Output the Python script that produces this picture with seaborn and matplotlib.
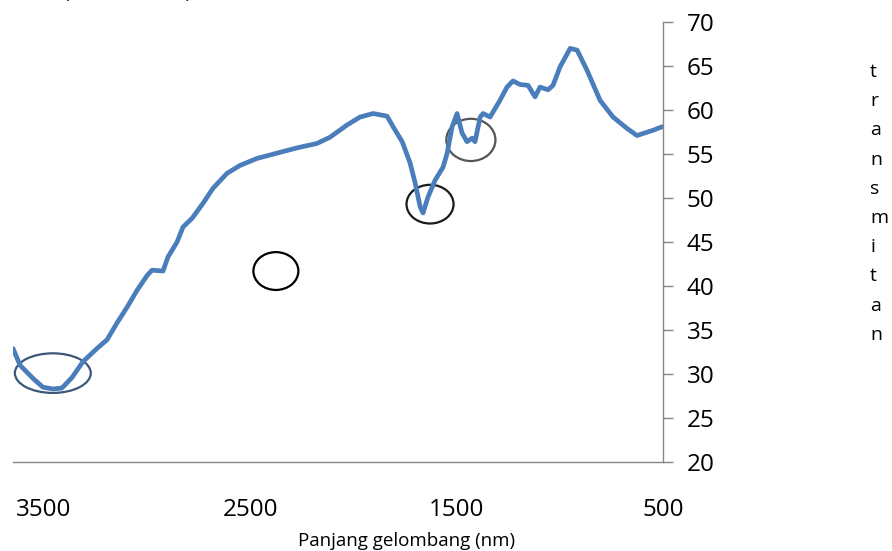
import matplotlib
matplotlib.use("Agg")
import matplotlib.pyplot as plt
from matplotlib.patches import Ellipse
import seaborn as sns
import pandas as pd

# Wavelength (x) and transmittance (y) values
wavelength = [3650, 3616, 3553, 3505, 3456, 3413, 3364, 3311, 3243, 3194,
              3146, 3097, 3049, 3000, 2976, 2923, 2899, 2855, 2826, 2782,
              2729, 2681, 2613, 2550, 2467, 2370, 2273, 2177, 2114, 2031,
              1968, 1905, 1837, 1808, 1764, 1726, 1701, 1677, 1663, 1639,
              1605, 1566, 1546, 1522, 1498, 1474, 1450, 1425, 1411, 1386,
              1372, 1338, 1290, 1256, 1227, 1193, 1154, 1120, 1096, 1057,
              1033, 999, 950, 916, 868, 805, 742, 674, 626, 548, 504]
transmitan = [32.9, 31.0, 29.5, 28.5, 28.3, 28.4, 29.6, 31.4, 32.9, 33.9,
              35.8, 37.6, 39.5, 41.2, 41.8, 41.7, 43.3, 45.0, 46.7, 47.7,
              49.4, 51.1, 52.8, 53.7, 54.5, 55.1, 55.7, 56.2, 56.9, 58.3,
              59.2, 59.6, 59.3, 58.1, 56.4, 54.0, 51.7, 49.0, 48.3, 50.1,
              52.0, 53.5, 55.1, 58.1, 59.6, 57.4, 56.4, 56.8, 56.4, 59.2,
              59.6, 59.2, 61.1, 62.6, 63.3, 62.9, 62.8, 61.5, 62.6, 62.3,
              62.8, 64.9, 67.0, 66.8, 64.5, 61.1, 59.2, 57.9, 57.1, 57.7, 58.1]

x_ticks = [3500, 2500, 1500, 500]
y_ticks = [20, 25, 30, 35, 40, 45, 50, 55, 60, 65, 70]

# Annotation ellipses: (center x, center y, width, height, color)
ellipses = [
    (3457, 30.1, 368, 4.5, "#3B5878"),
    (2376, 41.7, 218, 4.3, "#000000"),
    (1629, 49.3, 228, 4.4, "#1a1a1a"),
    (1431, 56.6, 238, 4.8, "#555555"),
]

df = pd.DataFrame({"wavelength": wavelength, "transmitan": transmitan})

sns.set_style("white")
plt.rcParams["font.family"] = ["Open Sans", "DejaVu Sans"]
plt.rcParams["text.color"] = "#000000"

fig = plt.figure(figsize=(8.92, 5.51), dpi=100)
ax = fig.add_axes([13 / 892, 1 - 462 / 551, (663 - 13) / 892, (462 - 22) / 551])

sns.lineplot(data=df, x="wavelength", y="transmitan", ax=ax, color="#4A7EBB",
             linewidth=3.4, sort=False, estimator=None)

for cx, cy, w, h, c in ellipses:
    ax.add_patch(Ellipse((cx, cy), w, h, fill=False, edgecolor=c, linewidth=1.6,
                         clip_on=False))

ax.set_xlim(3650, 500)
ax.set_ylim(20, 70)
ax.set_xticks(x_ticks)
ax.set_xticklabels([str(v) for v in x_ticks])
ax.set_yticks(y_ticks)
ax.set_yticklabels([str(v) for v in y_ticks])
ax.yaxis.tick_right()
ax.set_xlabel("")
ax.set_ylabel("")

for s in ["left", "top"]:
    ax.spines[s].set_visible(False)
for s in ["right", "bottom"]:
    ax.spines[s].set_color("#868686")
    ax.spines[s].set_linewidth(1.0)

ax.tick_params(axis="x", direction="out", length=5, width=1.0, color="#868686",
               pad=21, labelsize=17.5, labelcolor="#000000")
ax.tick_params(axis="y", direction="out", length=7, width=1.0, color="#868686",
               pad=10, labelsize=17.5, labelcolor="#000000", right=True, left=False)

fig.text(407 / 892, 1 - 541 / 551, "Panjang gelombang (nm)", ha="center",
         va="center", fontsize=13.5, color="#000000")

for i, ch in enumerate("transmitan"):
    fig.text(870 / 892, 1 - (72 + 29.2 * i) / 551, ch, ha="left", va="center",
             fontsize=14, color="#000000")

fig.text(64 / 892, 1.003, "(% transmitan)", ha="left", va="baseline", fontsize=13.5,
         color="#000000")

fig.savefig("out.png", dpi=100)
